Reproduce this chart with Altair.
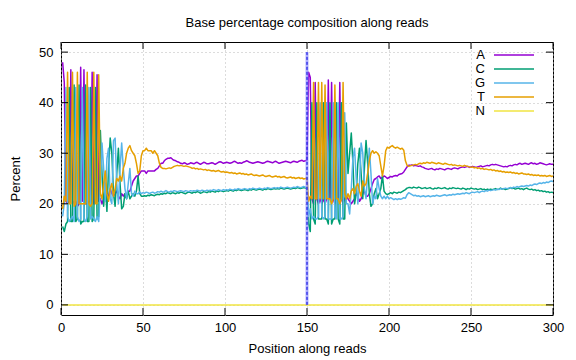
import altair as alt
import pandas as pd

# ---------------- data ----------------
BASES = ["A", "C", "G", "T", "N"]
COLORS = ["#9400d3", "#009e73", "#56b4e9", "#e69f00", "#f0e442"]
XTICKS = [0, 50, 100, 150, 200, 250, 300]
YTICKS = [0, 10, 20, 30, 40, 50]
READ_SPLIT = 150

# read 1, positions 1..150
A1 = [48.0, 44.0, 20.5, 20.0, 20.5, 46.5, 20.0, 20.5, 20.5, 19.5,
      20.0, 47.0, 20.5, 46.5, 20.0, 20.0, 20.5, 20.5, 46.0, 20.0,
      20.5, 45.5, 20.5, 21.0, 20.0, 21.0, 22.0, 20.5, 21.5, 23.0,
      22.0, 21.5, 22.0, 22.5, 21.5, 21.0, 22.0, 21.5, 22.0, 21.5,
      22.5, 22.5, 23.5, 24.5, 25.0, 25.5, 25.5, 26.0, 26.5, 26.5,
      26.5, 26.0, 26.5, 26.5, 26.5, 26.5, 26.5, 26.8, 27.0, 27.5,
      28.0, 28.0, 28.5, 28.8, 29.0, 29.0, 29.1, 28.8, 28.6, 28.5,
      28.3, 28.2, 28.0, 27.9, 28.1, 28.0, 27.8, 27.9, 28.1, 28.0,
      27.9, 28.1, 28.2, 28.0, 27.8, 28.0, 28.2, 28.1, 27.9, 27.9,
      28.0, 28.1, 28.0, 27.8, 28.0, 28.2, 28.3, 28.2, 28.0, 28.1,
      28.2, 28.1, 28.0, 28.1, 28.3, 28.4, 28.2, 28.0, 28.1, 28.0,
      28.2, 28.3, 28.5, 28.4, 28.2, 28.1, 28.0, 28.1, 28.2, 28.3,
      28.2, 28.1, 28.0, 28.1, 28.3, 28.4, 28.3, 28.2, 28.1, 28.3,
      28.4, 28.2, 28.0, 28.1, 28.2, 28.3, 28.4, 28.3, 28.2, 28.1,
      28.3, 28.4, 28.3, 28.2, 28.4, 28.5, 28.6, 28.4, 28.5, 28.6]
C1 = [15.5, 14.5, 16.0, 16.5, 43.0, 16.5, 16.5, 43.5, 16.5, 17.0,
      43.5, 16.0, 16.5, 16.5, 43.5, 16.5, 16.5, 43.0, 16.5, 17.0,
      43.0, 17.0, 17.5, 34.5, 26.0, 19.5, 24.0, 18.5, 27.0, 33.0,
      30.0, 22.0, 19.5, 26.0, 31.0, 24.0, 19.0, 19.5, 22.0, 21.0,
      22.5, 21.0, 21.5, 22.0, 21.5, 22.5, 25.5, 22.0, 21.5, 21.5,
      21.6, 21.5, 21.7, 21.6, 21.8, 21.7, 21.6, 21.8, 21.9, 21.8,
      22.0, 21.9, 22.1, 22.0, 22.2, 22.1, 22.0, 22.2, 22.1, 22.0,
      22.2, 22.1, 22.3, 22.2, 22.1, 22.0, 22.2, 22.3, 22.2, 22.1,
      22.3, 22.2, 22.4, 22.3, 22.1, 22.2, 22.4, 22.3, 22.2, 22.4,
      22.3, 22.5, 22.4, 22.3, 22.5, 22.4, 22.6, 22.5, 22.4, 22.5,
      22.6, 22.5, 22.7, 22.6, 22.5, 22.7, 22.6, 22.8, 22.7, 22.6,
      22.7, 22.8, 22.7, 22.6, 22.8, 22.7, 22.9, 22.8, 22.7, 22.8,
      22.9, 22.8, 22.7, 22.9, 22.8, 23.0, 22.9, 22.8, 22.9, 23.0,
      22.9, 23.0, 22.9, 23.1, 23.0, 22.9, 23.0, 23.1, 23.0, 22.9,
      23.0, 23.1, 23.0, 23.2, 23.1, 23.0, 23.1, 23.2, 23.1, 23.0]
G1 = [17.5, 20.0, 43.0, 17.5, 16.5, 17.0, 17.5, 16.5, 43.0, 17.5,
      16.5, 17.0, 43.0, 17.0, 16.5, 17.5, 43.0, 17.0, 17.5, 17.0,
      16.5, 17.5, 16.5, 23.0, 32.0, 27.0, 20.5, 29.0, 31.0, 21.0,
      20.0, 32.5, 33.0, 24.0, 20.0, 27.0, 32.0, 27.0, 23.0, 21.0,
      24.0, 27.0, 22.0, 21.5, 22.5, 22.0, 22.0, 22.3, 22.0, 22.2,
      22.1, 22.3, 22.2, 22.0, 22.2, 22.3, 22.1, 22.2, 22.4, 22.3,
      22.5, 22.3, 22.4, 22.6, 22.4, 22.3, 22.5, 22.4, 22.6, 22.5,
      22.4, 22.5, 22.6, 22.5, 22.4, 22.6, 22.5, 22.4, 22.6, 22.5,
      22.6, 22.5, 22.7, 22.6, 22.5, 22.7, 22.6, 22.5, 22.7, 22.6,
      22.7, 22.6, 22.8, 22.7, 22.6, 22.8, 22.7, 22.6, 22.8, 22.7,
      22.8, 22.7, 22.9, 22.8, 22.7, 22.9, 22.8, 23.0, 22.9, 22.8,
      22.9, 23.0, 22.9, 22.8, 23.0, 22.9, 23.1, 23.0, 22.9, 23.0,
      23.1, 23.0, 22.9, 23.1, 23.0, 23.2, 23.1, 23.0, 23.1, 23.2,
      23.1, 23.2, 23.1, 23.3, 23.2, 23.1, 23.2, 23.3, 23.2, 23.1,
      23.2, 23.3, 23.2, 23.4, 23.3, 23.2, 23.3, 23.4, 23.3, 23.2]
T1 = [19.0, 21.5, 20.5, 46.0, 20.0, 20.0, 46.0, 19.5, 20.0, 46.0,
      20.0, 20.0, 20.0, 20.0, 20.0, 46.0, 20.0, 19.5, 20.0, 46.0,
      20.0, 20.0, 45.5, 22.0, 21.0, 24.0, 26.5, 22.0, 20.5, 23.0,
      24.0, 21.5, 23.0, 25.0, 24.5, 25.5, 24.5, 27.0, 28.0, 30.0,
      31.0, 31.5, 30.5, 30.0, 29.5, 28.0, 26.0, 26.5, 29.5, 30.5,
      30.5, 31.0, 30.5, 30.5, 30.5, 30.0, 30.5, 30.0, 29.5, 28.0,
      27.2, 27.0, 27.0, 26.9, 27.0, 27.1, 27.0, 27.2, 27.4, 27.5,
      27.6, 27.5, 27.6, 27.5, 27.4, 27.5, 27.4, 27.3, 27.2, 27.0,
      27.1, 26.9, 27.0, 26.8, 26.9, 26.8, 26.7, 26.8, 26.6, 26.7,
      26.6, 26.5, 26.6, 26.4, 26.5, 26.6, 26.4, 26.3, 26.4, 26.2,
      26.3, 26.2, 26.1, 26.2, 26.0, 26.1, 25.9, 26.0, 26.1, 25.9,
      26.0, 25.8, 25.9, 25.7, 25.8, 25.9, 25.7, 25.6, 25.7, 25.6,
      25.5, 25.6, 25.7, 25.5, 25.4, 25.5, 25.6, 25.4, 25.3, 25.4,
      25.5, 25.3, 25.4, 25.2, 25.3, 25.4, 25.2, 25.1, 25.2, 25.3,
      25.1, 25.2, 25.0, 25.1, 25.2, 25.0, 25.1, 24.9, 25.0, 25.1]

# read 2, positions 151..300
A2 = [46.0, 45.0, 21.0, 20.0, 44.0, 21.0, 20.0, 21.0, 20.0, 21.0,
      20.0, 21.0, 44.5, 21.0, 44.0, 21.0, 20.0, 21.0, 21.0, 44.0,
      21.0, 20.0, 21.0, 21.5,
      21.0, 20.5, 20.0, 20.5, 21.0, 22.0, 21.5, 20.5, 21.0, 22.0,
      22.5, 21.5, 21.5, 22.0, 23.0, 24.0, 24.8, 25.0, 25.3, 25.5,
      25.0, 25.2, 25.5, 25.3, 25.0, 25.2, 25.4, 25.3, 25.5, 25.6,
      25.5, 25.8, 25.9, 26.0, 26.3, 26.8, 27.3, 27.6,
      27.6, 27.7, 27.5, 27.6, 27.5, 27.4, 27.5, 27.3, 27.2, 27.0,
      26.9, 26.8, 26.9, 27.0, 26.8, 26.7, 26.9, 26.8, 27.0, 26.9,
      26.8, 26.7, 26.9, 27.0, 26.9, 26.8, 27.0, 27.1, 27.0, 26.9,
      27.1, 27.2, 27.3, 27.2, 27.3, 27.4, 27.2, 27.3, 27.4, 27.3,
      27.2, 27.3, 27.4, 27.5, 27.3, 27.4, 27.5, 27.6, 27.5, 27.7,
      27.8, 27.7, 27.8, 27.7, 27.6, 27.5, 27.4, 27.3, 27.4, 27.3,
      27.5, 27.6, 27.5, 27.7, 27.8, 27.7, 27.9, 28.0, 27.8, 27.9,
      28.0, 27.9, 27.8, 28.0, 28.1, 27.9, 28.0, 27.8, 27.9, 28.1,
      28.0, 27.9, 27.8, 27.7, 27.8, 27.9, 27.8, 27.8]
C2 = [16.0, 14.5, 40.0, 17.0, 16.0, 40.0, 17.0, 17.0, 17.0, 40.0,
      17.0, 17.0, 16.0, 40.0, 16.0, 17.0, 17.0, 40.0, 17.0, 16.0,
      40.0, 17.0, 17.0, 36.0,
      26.0, 30.0, 34.0, 28.0, 20.0, 22.0, 28.0, 31.0, 26.0, 21.0,
      27.0, 32.5, 28.0, 22.0, 19.5, 20.0, 22.0, 23.0, 21.0, 22.0,
      23.0, 25.6, 22.5, 22.0, 21.8, 22.0, 22.2, 22.0, 22.3, 22.2,
      22.1, 22.3, 22.2, 22.4, 22.6, 22.8, 23.1, 23.2,
      23.2, 23.1, 23.3, 23.2, 23.1, 23.3, 23.2, 23.0, 23.1, 23.2,
      23.0, 23.1, 23.2, 23.0, 22.9, 23.1, 23.0, 23.2, 23.1, 23.0,
      23.1, 23.2, 23.0, 22.9, 23.1, 23.0, 23.2, 23.1, 23.0, 23.1,
      23.0, 22.9, 23.1, 23.0, 22.8, 23.0, 22.9, 23.1, 23.0, 22.9,
      23.0, 22.8, 22.9, 23.0, 22.8, 22.9, 22.7, 22.9, 22.8, 22.9,
      22.8, 22.9, 23.0, 22.8, 22.9, 23.1, 22.9, 23.0, 22.8, 22.9,
      23.0, 23.2, 23.0, 23.1, 22.9, 23.0, 23.1, 22.9, 23.0, 22.8,
      23.0, 23.1, 22.9, 22.8, 22.9, 22.7, 22.8, 22.6, 22.7, 22.5,
      22.6, 22.4, 22.5, 22.3, 22.4, 22.2, 22.3, 22.2]
G2 = [17.5, 19.0, 17.0, 17.5, 17.0, 17.0, 17.5, 40.0, 17.5, 17.0,
      17.5, 40.0, 17.0, 17.0, 17.0, 40.0, 17.5, 17.0, 40.0, 17.0,
      17.0, 17.5, 38.0, 20.0,
      20.0, 18.0, 23.0, 29.0, 31.0, 25.0, 20.0, 24.0, 32.0, 30.0,
      23.0, 21.0, 26.0, 31.0, 26.0, 20.0, 21.5, 21.0, 25.0, 23.0,
      21.5, 21.0, 21.5, 21.0, 21.5, 21.0, 21.2, 21.0, 20.8, 21.0,
      20.8, 21.0, 20.9, 21.0, 21.2, 21.1, 21.8, 22.2,
      22.0, 21.8, 21.6, 21.7, 21.5, 21.6, 21.4, 21.5, 21.6, 21.4,
      21.5, 21.6, 21.4, 21.5, 21.6, 21.5, 21.7, 21.6, 21.5, 21.6,
      21.7, 21.8, 21.6, 21.7, 21.8, 21.7, 21.9, 21.8, 21.9, 22.0,
      21.9, 22.0, 22.1, 22.0, 22.2, 22.1, 22.0, 22.2, 22.3, 22.2,
      22.3, 22.4, 22.2, 22.4, 22.5, 22.4, 22.6, 22.5, 22.7, 22.6,
      22.7, 22.8, 22.7, 22.9, 22.8, 23.0, 22.9, 23.0, 23.1, 23.0,
      23.1, 23.2, 23.1, 23.3, 23.2, 23.4, 23.3, 23.4, 23.5, 23.4,
      23.5, 23.6, 23.5, 23.7, 23.6, 23.8, 23.9, 23.8, 24.0, 24.1,
      24.0, 24.2, 24.1, 24.3, 24.2, 24.4, 24.5, 24.4]
T2 = [20.5, 21.5, 21.0, 44.0, 21.0, 21.0, 44.0, 21.0, 44.0, 21.0,
      43.5, 21.0, 21.0, 21.0, 20.0, 21.0, 43.5, 21.0, 21.0, 20.0,
      21.0, 44.0, 22.0, 21.0,
      22.0, 21.0, 22.5, 23.0, 22.0, 23.5, 24.0, 22.5, 21.5, 24.5,
      23.5, 24.0, 26.0, 28.5, 30.0, 30.5, 30.0, 30.3, 30.0, 29.5,
      27.5, 25.5, 27.5, 30.5, 31.2, 31.0, 31.3, 31.5, 31.2, 31.0,
      31.2, 31.0, 30.8, 31.0, 30.6, 28.5, 27.6, 27.4,
      27.5, 27.6, 27.7, 27.8, 27.7, 27.9, 28.0, 27.9, 28.1, 28.0,
      28.2, 28.1, 28.0, 28.2, 28.1, 28.0, 27.9, 28.1, 28.0, 27.9,
      27.8, 28.0, 27.9, 27.8, 27.7, 27.8, 27.6, 27.7, 27.6, 27.5,
      27.6, 27.5, 27.4, 27.6, 27.5, 27.4, 27.3, 27.2, 27.3, 27.1,
      27.2, 27.0, 27.1, 26.9, 27.0, 26.8, 26.9, 26.8, 26.7, 26.8,
      26.6, 26.7, 26.5, 26.6, 26.4, 26.5, 26.3, 26.4, 26.2, 26.3,
      26.2, 26.3, 26.1, 26.2, 26.0, 26.1, 25.9, 26.0, 26.1, 25.9,
      25.9, 25.8, 25.9, 25.7, 25.8, 25.6, 25.7, 25.6, 25.7, 25.5,
      25.6, 25.5, 25.6, 25.4, 25.5, 25.6, 25.4, 25.5]
N_ALL = [0.0] * 300

SERIES = {"A": A1 + A2, "C": C1 + C2, "G": G1 + G2, "T": T1 + T2, "N": N_ALL}
for k, v in SERIES.items():
    assert len(v) == 300, (k, len(v))

rows = []
for b in BASES:
    for i, val in enumerate(SERIES[b]):
        rows.append({"pos": i + 1, "pct": val, "base": b})
df = pd.DataFrame(rows)

# ---------------- chart ----------------
W, H = 492, 273
TL = 7  # tick length
FONT = "Liberation Sans"
XT = "Position along reads"
YT = "Percent"

xs = alt.Scale(domain=[0, 300], nice=False, zero=False)
ys = alt.Scale(domain=[-2, 52], nice=False, zero=False)

lines = alt.Chart(df).mark_line(strokeWidth=1.5, strokeJoin="round", clip=True).encode(
    x=alt.X("pos:Q", scale=xs, title=XT,
            axis=alt.Axis(values=XTICKS, grid=True, format="d", labelFlush=False)),
    y=alt.Y("pct:Q", scale=ys, title=YT,
            axis=alt.Axis(values=YTICKS, grid=True, format="d", labelFlush=False)),
    color=alt.Color("base:N", scale=alt.Scale(domain=BASES, range=COLORS), legend=None),
)

sep_df = pd.DataFrame({"x": [READ_SPLIT], "y0": [0], "y1": [50]})
sep_glow = alt.Chart(sep_df).mark_rule(color="#9090ff", strokeWidth=3, opacity=0.7).encode(
    x=alt.X("x:Q", scale=xs, title=XT), y=alt.Y("y0:Q", scale=ys, title=YT), y2="y1:Q")
sep_core = alt.Chart(sep_df).mark_rule(color="#0000e0", strokeWidth=1, strokeDash=[3, 2]).encode(
    x=alt.X("x:Q", scale=xs, title=XT), y=alt.Y("y0:Q", scale=ys, title=YT), y2="y1:Q")

yt_df = pd.DataFrame({"v": YTICKS})
xt_df = pd.DataFrame({"v": XTICKS})
tick_layers = [
    alt.Chart(yt_df).mark_rule(color="black").encode(
        y=alt.Y("v:Q", scale=ys, title=YT), x=alt.value(0), x2=alt.value(TL)),
    alt.Chart(yt_df).mark_rule(color="black").encode(
        y=alt.Y("v:Q", scale=ys, title=YT), x=alt.value(W - TL), x2=alt.value(W)),
    alt.Chart(xt_df).mark_rule(color="black").encode(
        x=alt.X("v:Q", scale=xs, title=XT), y=alt.value(H), y2=alt.value(H - TL)),
    alt.Chart(xt_df).mark_rule(color="black").encode(
        x=alt.X("v:Q", scale=xs, title=XT), y=alt.value(0), y2=alt.value(TL)),
]

legend_layers = []
for i, (b, c) in enumerate(zip(BASES, COLORS)):
    ly = 13 + 14 * i
    ldf = pd.DataFrame({"t": [b]})
    legend_layers.append(
        alt.Chart(ldf).mark_text(align="right", baseline="middle", font=FONT,
                                 fontSize=13, color="black").encode(
            text="t:N", x=alt.value(424), y=alt.value(ly)))
    legend_layers.append(
        alt.Chart(ldf).mark_rule(color=c, strokeWidth=1.5).encode(
            x=alt.value(433), x2=alt.value(473), y=alt.value(ly)))

chart = alt.layer(lines, sep_glow, sep_core, *tick_layers, *legend_layers).properties(
    width=W, height=H,
    title=alt.TitleParams("Base percentage composition along reads", font=FONT,
                          fontSize=13, fontWeight="normal", color="black",
                          anchor="middle", offset=12),
    autosize=alt.AutoSizeParams(type="none"),
    padding={"left": 53, "top": 34, "right": 12, "bottom": 44},
).configure_axis(
    labelFont=FONT, labelFontSize=13, labelColor="black",
    titleFont=FONT, titleFontSize=13, titleFontWeight="normal", titleColor="black",
    tickSize=0, domain=False, labelFlush=False,
    gridColor="#b8b8b8", gridDash=[1, 3], gridWidth=1,
).configure_axisX(labelPadding=6, titlePadding=8).configure_axisY(
    labelPadding=8, titlePadding=16
).configure_view(stroke="black", strokeWidth=1)

chart.save("out.html", embed_options={"renderer": "svg", "actions": False})
